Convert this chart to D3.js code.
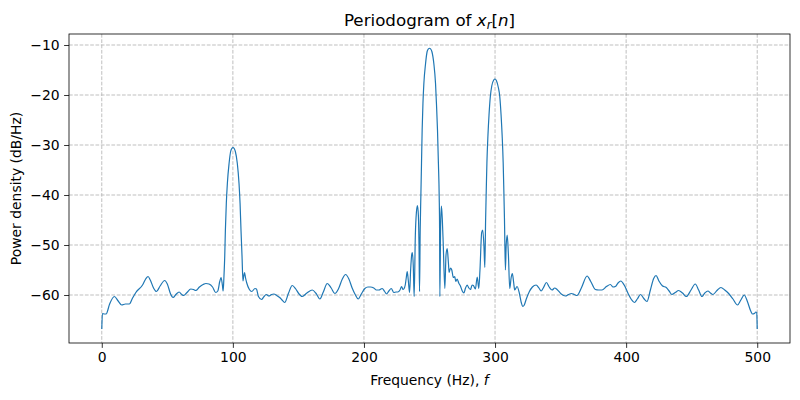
<!DOCTYPE html>
<html><head><meta charset="utf-8">
<script src="https://cdn.jsdelivr.net/npm/d3@7"></script>
<style>body{margin:0;background:#fff;} svg{display:block;font-family:"DejaVu Sans",sans-serif;}</style>
</head><body><svg id="chart" width="800" height="400"></svg>
<script>
const freqHz = [0,0.5,2,3.3,6,9.6,12.5,15.2,18,21,23.5,26,31.1,33.5,35.3,37,39.5,41.7,44.5,48,50,52.5,54.4,56.5,59,61,62.5,65,67.9,70,71.7,74.5,77.3,79.5,81.8,84.5,86.9,88.5,90,91,92,92.6,
93.2,93.8,94.3,95,95.8,97.1,98.3,99.2,100.1,101,101.9,103.4,104.7,105.5,106.2,107,107.7,108.3,108.9,109.6,110.6,112.6,114.4,116.9,118,119.5,121.9,123.5,125.5,127.5,129.5,131.3,133.5,135.7,137.5,139.5,142.5,145.3,148,150.5,153,156.5,160.6,163.5,166.4,169,172,175,177.8,180.5,183.5,186,188.5,191,193.5,195.6,198,200.7,203,205,207.5,209.5,211.4,213.9,215.8,217.2,219,220.8,222.8,224.5,225.8,227.5,228.7,229.8,230.4,231.5,232.3,233,233.8,234.8,235.6,236.5,236.9,237.6,238.3,239.2,240,240.8,241.5,242,242.4,
242.9,243.4,243.9,244.4,245,245.7,247,248.2,249.1,250,250.9,251.8,253.3,254.6,255.3,256.1,256.8,257.4,257.7,257.9,
258.5,259.1,259.8,260.5,261.7,262.6,263.5,264.4,265,266,267,268.2,269.3,270,271.1,272.3,273.6,275,276.2,277.5,278.7,280,281.3,282.5,283.5,285,286.4,287.6,288.5,289.8,290.6,291.5,292.2,
292.8,293.3,293.8,294.6,295.4,296.4,297.5,299,300,301,302.5,303.6,304.6,305.4,306.2,306.7,307.2,307.9,
308.5,309.3,310.2,311.2,312.3,313.2,314.2,315,316.8,318.6,320,321.1,322.3,323.7,326.2,328.5,331.3,333.5,335.1,337,339.2,341.3,343.5,345.5,347.3,350.5,353.7,356,358.2,360.5,362.5,366,370.2,373,376.5,379,381.6,385,388,390,391.8,393.8,395.9,398.5,401.5,404,406.3,408.5,411,413.5,415.9,418.5,421,422.8,425,427.8,430.6,432.8,434.9,437.5,440,443,445.9,449.5,452.7,455.3,457.8,460,462.4,464.3,466.2,469.3,472.3,475.2,478.2,481.5,485,487.5,490.1,492.5,495.2,496.5,497.8,499,499.6,500];
const powerDb = [-66.8,-63.7,-63.8,-63.8,-61.8,-60.3,-61.2,-62,-61.8,-61.8,-60.6,-59.5,-58,-56.8,-56.3,-57,-58.6,-59.3,-58.2,-57.1,-57.8,-59.8,-60.5,-59.9,-59.4,-59.9,-60.1,-59.5,-58.8,-58.9,-59.1,-58.4,-57.9,-57.7,-57.8,-58.4,-59.5,-59.2,-57.3,-56.5,-58,-59.2,
-56.3,-52.3,-47,-41.7,-37.7,-33.7,-31.3,-30.7,-30.5,-30.7,-31.3,-33.7,-37.7,-41.7,-47,-52.3,-57.2,-56.2,-55.5,-56.5,-57.6,-58.9,-59.3,-58.7,-58.8,-60.3,-60.9,-60.4,-59.9,-60.2,-59.9,-59.8,-60.1,-60.5,-61,-61.5,-59.6,-58.1,-58.8,-59.8,-60.3,-59.6,-59,-59.7,-60.8,-59.4,-57.7,-58.6,-59.7,-58.8,-56.8,-55.9,-56.8,-58.6,-60,-60.8,-59.8,-58.7,-58.4,-58.4,-58.6,-59,-59,-58.7,-59.3,-59.8,-59.2,-58.7,-59.5,-59.4,-59.4,-59,-58.3,-58.9,-58.8,-58,-56.5,-55.3,-57,-59.5,-55,-51.8,-51.5,-54,-60.3,-48,-43.5,-42.1,-44,-50,-59.3,
-47,-40.3,-33.7,-27,-21.7,-17.7,-13.7,-11.3,-10.8,-10.65,-10.8,-11.3,-13.7,-17.7,-21.7,-27,-33.7,-40.3,-47,-60.3,
-46,-42.2,-45,-50,-58.7,-52,-50.7,-53.5,-55.5,-54.6,-55,-56.5,-56.3,-57.3,-56.8,-57.6,-58.2,-59.2,-59.6,-58.6,-58,-58.6,-58.9,-58,-58.1,-58.8,-56.4,-58.7,-55,-47.5,-47,-50,-54.5,
-45,-39,-33.5,-28,-24,-20.3,-18.2,-17,-16.8,-17.1,-18.5,-20.3,-24,-28,-33.5,-39,-45,-55,
-50,-48,-52,-58.7,-56.5,-55.7,-57.5,-59,-58.3,-59.7,-61.5,-62.3,-62,-60.9,-59.3,-58.4,-58,-58.6,-59.2,-58.5,-57.5,-58.4,-59,-58.6,-58.9,-59.8,-60.2,-59.9,-59.7,-59.9,-60.1,-58.5,-56.2,-57.3,-58.9,-59,-59,-58.3,-57.9,-58.4,-58.3,-57.6,-57.2,-58,-59.7,-60.9,-61.5,-60.8,-59.9,-60.7,-61.3,-59,-56.7,-56.1,-57.2,-58.2,-58.5,-59.2,-59.9,-59.5,-59.1,-59.6,-60.3,-59,-57.8,-59,-60.3,-59.6,-59.2,-59.6,-59.9,-59.1,-58.5,-59,-59.7,-60.8,-62,-61,-60,-61.3,-63.3,-63.8,-63.7,-63.4,-63.5,-66.8];
const xTicks = [0,100,200,300,400,500];
const yTicks = [-60,-50,-40,-30,-20,-10];

const svg = d3.select("#chart");
const L = 69, R = 790, T = 34, B = 343;
const x = d3.scaleLinear().domain([-25, 525]).range([L, R]);
const y = d3.scaleLinear().domain([-69.6, -7.8]).range([B, T]);

// grid
const grid = svg.append("g").attr("stroke", "#b8b8b8")
  .attr("stroke-width", 0.9).attr("stroke-dasharray", "3.7,1.6");
grid.selectAll("line.v").data(xTicks).join("line")
  .attr("x1", d => x(d)).attr("x2", d => x(d)).attr("y1", T).attr("y2", B);
grid.selectAll("line.h").data(yTicks).join("line")
  .attr("x1", L).attr("x2", R).attr("y1", d => y(d)).attr("y2", d => y(d));

// line
const pts = freqHz.map((f, i) => [f, powerDb[i]]);
const line = d3.line().x(d => x(d[0])).y(d => y(d[1])).curve(d3.curveMonotoneX);
svg.append("path").datum(pts).attr("d", line).attr("fill", "none")
  .attr("stroke", "#1f77b4").attr("stroke-width", 1.2).attr("stroke-linejoin", "round");

// axes
const fmt = d => (d < 0 ? "\u2212" + Math.abs(d) : String(d));
const xa = svg.append("g").attr("transform", `translate(0,${B})`)
  .call(d3.axisBottom(x).tickValues(xTicks).tickSize(4.9).tickPadding(4.5).tickFormat(fmt));
const ya = svg.append("g").attr("transform", `translate(${L},0)`)
  .call(d3.axisLeft(y).tickValues(yTicks).tickSize(4.9).tickPadding(4.5).tickFormat(fmt));
[xa, ya].forEach(a => {
  a.select(".domain").remove();
  a.selectAll("line").attr("stroke", "#000").attr("stroke-width", 0.8);
  a.selectAll("text").attr("font-family", "DejaVu Sans").attr("font-size", 13.9).attr("fill", "#000");
});
svg.append("rect").attr("x", L).attr("y", T).attr("width", R - L).attr("height", B - T)
  .attr("fill", "none").attr("stroke", "#000").attr("stroke-width", 0.8);

// title
const title = svg.append("text").attr("x", (L + R) / 2).attr("y", 26)
  .attr("text-anchor", "middle").attr("font-size", 16.7).attr("fill", "#000");
title.append("tspan").text("Periodogram of ");
title.append("tspan").attr("font-style", "italic").text("x");
title.append("tspan").attr("font-style", "italic").attr("font-size", 11.7).attr("dy", 3).text("r");
title.append("tspan").attr("dy", -3).text("[");
title.append("tspan").attr("font-style", "italic").text("n");
title.append("tspan").text("]");

// x label
const xl = svg.append("text").attr("x", (L + R) / 2).attr("y", 385)
  .attr("text-anchor", "middle").attr("font-size", 13.9).attr("fill", "#000");
xl.append("tspan").text("Frequency (Hz), ");
xl.append("tspan").attr("font-style", "italic").text("f");

// y label
svg.append("text").attr("transform", `translate(21,${(T + B) / 2}) rotate(-90)`)
  .attr("text-anchor", "middle").attr("font-size", 13.9).attr("fill", "#000")
  .text("Power density (dB/Hz)");
</script></body></html>
